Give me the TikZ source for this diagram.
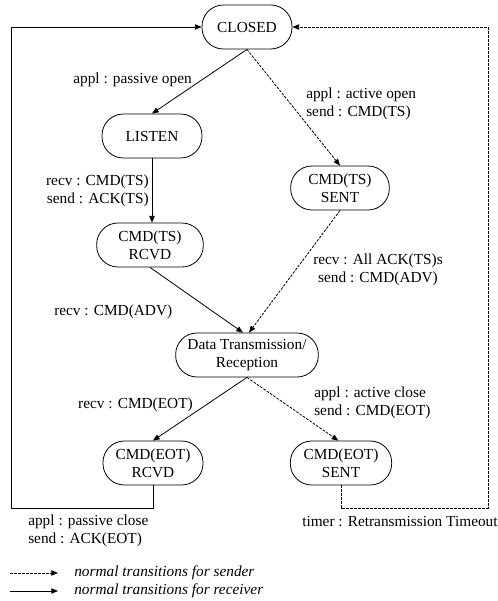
\documentclass[tikz,border=0pt]{standalone}
\usepackage{fontspec}
\setmainfont{Liberation Serif}
\usetikzlibrary{arrows.meta}

\begin{document}
\begin{tikzpicture}[x=0.75pt, y=-0.75pt,
  every node/.style={font=\fontsize{11.5}{13.5}\selectfont},
  state/.style={draw, line width=0.6pt, rounded corners=16pt, minimum height=33pt, align=center, inner sep=2pt},
  lbl/.style={inner sep=0pt},
  recv/.style={-{Triangle[length=5pt,width=4pt]}, line width=0.6pt},
  send/.style={recv, dash pattern=on 2pt off 1pt}]

  \useasboundingbox (0,0) rectangle (498,601);

  % States
  \node[state, minimum width=67.5pt] (closed) at (247,27) {CLOSED};
  \node[state, minimum width=75pt] (listen) at (152,136) {LISTEN};
  \node[state, minimum width=74pt] (tssent) at (340,188) {CMD(TS)\\SENT};
  \node[state, minimum width=80pt] (tsrcvd) at (150,245) {CMD(TS)\\RCVD};
  \node[state, minimum width=107pt] (data) at (247,355) {Data Transmission/\\Reception};
  \node[state, minimum width=75pt] (eotrcvd) at (153,463) {CMD(EOT)\\RCVD};
  \node[state, minimum width=76pt] (eotsent) at (341,463) {CMD(EOT)\\SENT};

  % Opening
  \draw[recv] (closed.south) -- (listen.north);
  \draw[send] (closed.south) -- (tssent.north);
  \draw[recv] (listen.south) -- (listen.south |- tsrcvd.north);

  % Into data transfer
  \draw[recv] (tsrcvd.south) -- ([xshift=-3pt]data.north);
  \draw[send] (tssent.south) -- ([xshift=1.5pt]data.north);

  % Closing
  \draw[recv] (data.south) -- (eotrcvd.north);
  \draw[send] (data.south) -- ([xshift=-2pt]eotsent.north);

  % Back to CLOSED
  \coordinate (lfoot) at (11,508);
  \coordinate (rfoot) at (488,508);
  \draw[recv] (eotrcvd.south) |- (lfoot) |- (closed.west);
  \draw[send] (eotsent.south) |- (rfoot) |- (closed.east);

  % Transition labels
  \node[lbl, anchor=east] (lbpassopen) at (192,80) {appl : passive open};
  \node[lbl, anchor=west, align=left] (lbactopen) at (306,104) {appl : active open\\send : CMD(TS)};
  \node[lbl, anchor=east, align=right] (lbrecvts) at (149,191) {recv : CMD(TS)\\send : ACK(TS)};
  \node[lbl, align=center] (lballack) at (378,270) {recv : All ACK(TS)s\\send : CMD(ADV)};
  \node[lbl, anchor=west] (lbrecvadv) at (54,312) {recv : CMD(ADV)};
  \node[lbl, anchor=west, align=left] (lbactclose) at (314,403) {appl : active close\\send : CMD(EOT)};
  \node[lbl, anchor=east] (lbrecveot) at (193,405) {recv : CMD(EOT)};
  \node[lbl, anchor=west, align=left] (lbpassclose) at (28,531) {appl : passive close\\send : ACK(EOT)};
  \node[lbl, anchor=west] (lbtimer) at (302,522) {timer : Retransmission Timeout};

  % Legend
  \coordinate (sendA) at (10,573);
  \coordinate (sendB) at (58,573);
  \coordinate (recvA) at (10,591);
  \coordinate (recvB) at (58,591);
  \draw[send] (sendA) -- (sendB);
  \draw[recv] (recvA) -- (recvB);
  \node[lbl, anchor=west] (keysend) at (74,573) {\itshape normal transitions for sender};
  \node[lbl, anchor=west] (keyrecv) at (74,591) {\itshape normal transitions for receiver};

\end{tikzpicture}
\end{document}
